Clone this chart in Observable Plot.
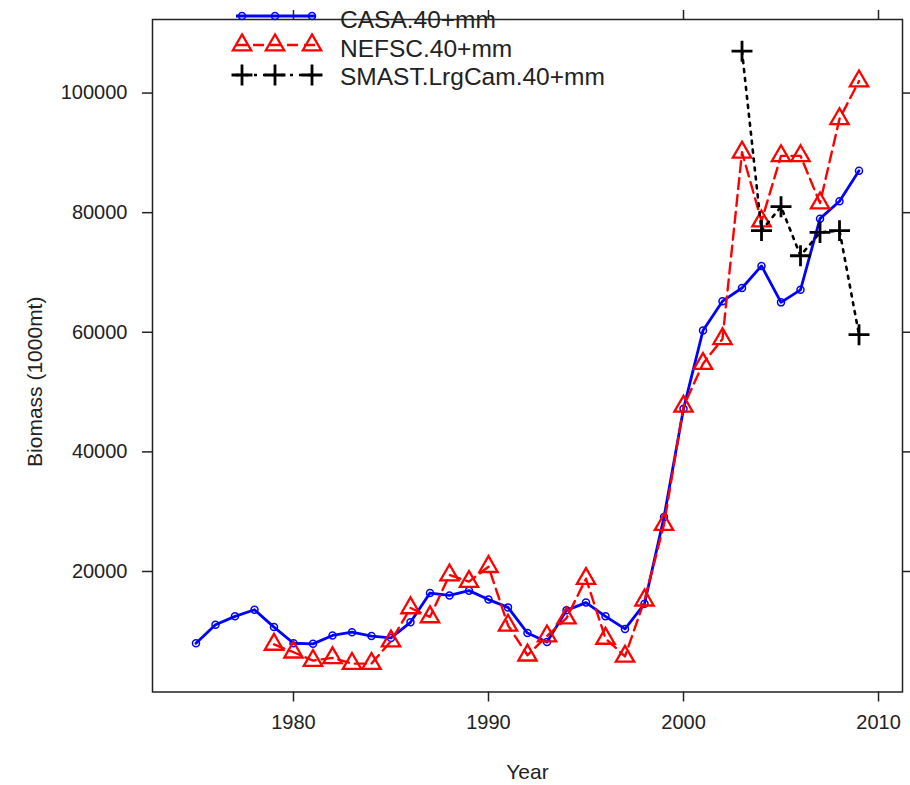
<!DOCTYPE html>
<html>
<head>
<meta charset="utf-8">
<script src="https://cdn.jsdelivr.net/npm/d3@7"></script>
<script src="https://cdn.jsdelivr.net/npm/@observablehq/plot@0.6"></script>
<style>
  body { margin: 0; background: #fff; }
  #wrap { position: relative; width: 910px; height: 785px; font-family: "Liberation Sans", Arial, sans-serif; }
  #key { position: absolute; left: 0; top: 0; overflow: visible; }
</style>
</head>
<body>
<div id="wrap">
  <div id="chart"></div>
  <svg id="key" width="910" height="100"></svg>
</div>
<script>
// Sea scallop biomass (40+ mm), three estimates
const casaYears = d3.range(1975, 2010);
const casaValues = [8000, 11100, 12500, 13600, 10700, 8000, 7900, 9300, 9850, 9200,
  8900, 11500, 16400, 16000, 16800, 15300, 14000, 9700, 8200, 13500,
  14800, 12500, 10400, 14600, 29100, 47200, 60300, 65200, 67400, 71100,
  65000, 67100, 79000, 81900, 87000];

const nefscYears = d3.range(1979, 2010);
const nefscValues = [7800, 6500, 5100, 5550, 4600, 4600, 8350, 13900, 12400, 19400,
  18300, 20800, 11000, 6000, 9200, 12200, 18800, 8800, 5800, 15200,
  27850, 47600, 54750, 58900, 90100, 78600, 89500, 89500, 81600, 95700,
  102000];

const smastYears = d3.range(2003, 2010);
const smastValues = [107000, 77000, 81000, 72800, 76700, 77000, 59600];

const seriesNames = ["CASA.40+mm", "NEFSC.40+mm", "SMAST.LrgCam.40+mm"];
const xTitle = "Year";
const yTitle = "Biomass (1000mt)";
const xTicks = [1980, 1990, 2000, 2010];
const yTicks = [20000, 40000, 60000, 80000, 100000];

const toRows = (years, values) => years.map((year, i) => ({year, value: values[i]}));
const casa = toRows(casaYears, casaValues);
const nefsc = toRows(nefscYears, nefscValues);
const smast = toRows(smastYears, smastValues);

const BLUE = "#0000ff", RED = "#ff0000", BLACK = "#000000";
const ink = "#222";
const FONT = '"Liberation Sans", Arial, sans-serif';

const TRI_R = 6.8, PLUS_R = 6.8;

const chart = Plot.plot({
  width: 910,
  height: 785,
  marginLeft: 152,
  marginRight: 8,
  marginTop: 19,
  marginBottom: 93.5,
  style: {fontFamily: FONT, color: ink, background: "#fff"},
  x: {domain: [1972.77, 2011.23]},
  y: {domain: [-150, 112300]},
  marks: [
    // ticks on all four sides, numbers only bottom and left
    Plot.axisX({ticks: xTicks, tickSize: 10, tickPadding: 13, tickFormat: d => String(d), label: null, fontSize: 20, strokeWidth: 1.5}),
    Plot.axisX({anchor: "top", ticks: xTicks, tickSize: 10, tickFormat: () => "", label: null, strokeWidth: 1.5}),
    Plot.axisY({ticks: yTicks, tickSize: 10, tickPadding: 15, tickFormat: d => String(d), label: null, fontSize: 20, strokeWidth: 1.5}),
    Plot.axisY({anchor: "right", ticks: yTicks, tickSize: 10, tickFormat: () => "", label: null, strokeWidth: 1.5}),
    Plot.frame({stroke: ink, strokeWidth: 1.5}),

    // axis titles
    Plot.text([xTitle], {frameAnchor: "bottom", dy: 80, text: d => d, fontSize: 21, fill: ink,
      textAnchor: "middle", lineAnchor: "middle"}),
    Plot.text([yTitle], {frameAnchor: "left", rotate: -90, dx: -117, dy: 26, text: d => d, fontSize: 21, fill: ink,
      textAnchor: "middle", lineAnchor: "middle"}),

    Plot.line(casa, {x: "year", y: "value", stroke: BLUE, strokeWidth: 2.8}),
    Plot.dot(casa, {x: "year", y: "value", r: 3.5, stroke: BLUE, fill: "none", strokeWidth: 1.5}),

    Plot.line(nefsc, {x: "year", y: "value", stroke: RED, strokeWidth: 2.4, strokeDasharray: "11,6"}),
    Plot.dot(nefsc, {x: "year", y: "value", symbol: "triangle", r: TRI_R, stroke: RED, fill: "none", strokeWidth: 2.3}),

    Plot.line(smast, {x: "year", y: "value", stroke: BLACK, strokeWidth: 2.6, strokeDasharray: "3,6"}),
    Plot.dot(smast, {x: "year", y: "value", symbol: "plus", r: PLUS_R, stroke: BLACK, strokeWidth: 2.8})
  ]
});
document.getElementById("chart").append(chart);

// Key: sample line + three symbols + series name per row
const key = d3.select("#key");
const keyRows = [
  {name: seriesNames[0], color: BLUE, dash: null, width: 2.8, symbol: "circle", cy: 16, base: 28},
  {name: seriesNames[1], color: RED, dash: "11,6", width: 2.4, symbol: "triangle", cy: 45, base: 57},
  {name: seriesNames[2], color: BLACK, dash: "3,6", width: 2.6, symbol: "plus", cy: 75, base: 85}
];
const symbolX = [242, 275, 312];
for (const row of keyRows) {
  const g = key.append("g");
  g.append("line")
    .attr("x1", 236).attr("x2", 316).attr("y1", row.cy).attr("y2", row.cy)
    .attr("stroke", row.color).attr("stroke-width", row.width)
    .attr("stroke-dasharray", row.dash);
  for (const sx of symbolX) {
    if (row.symbol === "circle") {
      g.append("circle").attr("cx", sx).attr("cy", row.cy).attr("r", 3.5)
        .attr("fill", "none").attr("stroke", row.color).attr("stroke-width", 1.5);
    } else if (row.symbol === "triangle") {
      g.append("path").attr("transform", `translate(${sx},${row.cy})`)
        .attr("d", d3.symbol(d3.symbolTriangle, Math.PI * TRI_R * TRI_R)())
        .attr("fill", "none").attr("stroke", row.color).attr("stroke-width", 2.3);
    } else {
      g.append("path").attr("transform", `translate(${sx},${row.cy})`)
        .attr("d", d3.symbol(d3.symbolPlus, Math.PI * PLUS_R * PLUS_R)())
        .attr("fill", "none").attr("stroke", row.color).attr("stroke-width", 2.8);
    }
  }
  g.append("text").attr("x", 340).attr("y", row.base)
    .attr("font-size", 24.5).attr("fill", ink)
    .attr("font-family", FONT)
    .text(row.name);
}
</script>
</body>
</html>
